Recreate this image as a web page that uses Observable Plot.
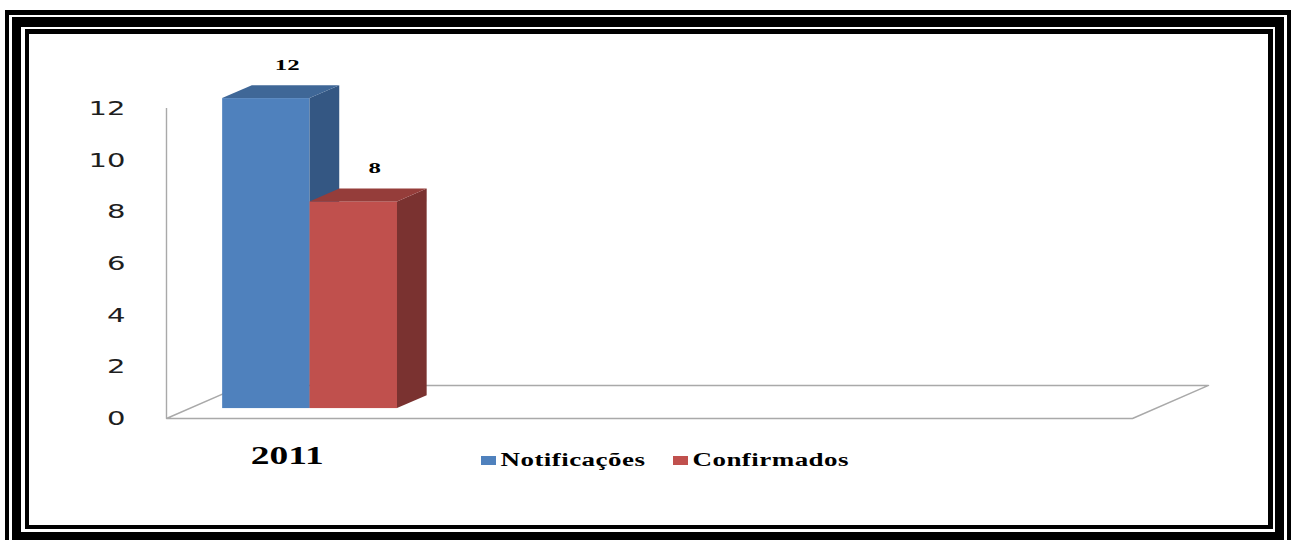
<!DOCTYPE html>
<html>
<head>
<meta charset="utf-8">
<script src="https://cdn.jsdelivr.net/npm/d3@7"></script>
<script src="https://cdn.jsdelivr.net/npm/@observablehq/plot@0.6"></script>
<style>
  html, body { margin: 0; padding: 0; background: #fff; }
  #page { position: relative; width: 1293px; height: 540px; overflow: hidden; background: #fff; }
  .frame { position: absolute; box-sizing: border-box; border-style: solid; border-color: #000; }
  #chart { position: absolute; left: 0; top: 0; }
  .leg { position: absolute; display: flex; align-items: center; transform-origin: 0 50%;
         font-family: "Liberation Serif", serif; font-weight: bold; font-size: 18px; color: #000; white-space: nowrap; letter-spacing: 0.3px; }
  .sw { display: inline-block; width: 10px; height: 9px; margin-right: 3px; }
</style>
</head>
<body>
<div id="page">
  <div class="frame" style="left:5px; top:10px; width:1286px; height:540px; border-width:5px 4px 4px 4px;"></div>
  <div class="frame" style="left:12px; top:17px; width:1272px; height:524px; border-width:10px 9px 9px 9px;"></div>
  <div class="frame" style="left:25px; top:29px; width:1248px; height:500px; border-width:5px 5px 4px 4px;"></div>
  <div id="chart"></div>
  <div id="legend"></div>
</div>
<script>
// ---- data ----
const categories = ["2011"];
const seriesNames = ["Notificações", "Confirmados"];
const notificacoes = [12];
const confirmados = [8];
const yTicks = [0, 2, 4, 6, 8, 10, 12];

// ---- styles ----
const frontColors = ["#4F81BD", "#C0504D"];
const sideColors = ["#345783", "#7A3230"];
const topColors = ["#3F6797", "#953D3A"];
const floorColor = "#a9a9a9";

// ---- 3D layout (data units) ----
const SLOTS = 4;          // category slots along the floor
const DEPTH_X = 0.315;    // floor depth, x units
const DEPTH_Y = 1.28;     // floor depth, y units
const Z0 = 0.30, Z1 = 0.69; // bar depth extent (0 = front, 1 = back)
const GAP = 0.138;
const BW = (1 - 2 * GAP) / seriesNames.length;

const seriesValues = [notificacoes, confirmados];
const bars = [];
seriesValues.forEach((vals, i) => {
  categories.forEach((c, j) => {
    const xl = j + GAP + i * BW;
    bars.push({series: i, name: seriesNames[i], category: c, value: vals[j], xl, xr: xl + BW});
  });
});

const floorPts = [
  {x: 0, y: 0}, {x: SLOTS, y: 0}, {x: SLOTS + DEPTH_X, y: DEPTH_Y},
  {x: DEPTH_X, y: DEPTH_Y}, {x: 0, y: 0}
];

const barMarks = bars.flatMap(b => {
  const v = b.value;
  return [
    Plot.rect([b], {
      x1: d => d.xl + Z0 * DEPTH_X, x2: d => d.xr + Z0 * DEPTH_X,
      y1: Z0 * DEPTH_Y, y2: d => d.value + Z0 * DEPTH_Y,
      fill: frontColors[b.series]
    }),
    Plot.areaY([
      {x: b.xr + Z0 * DEPTH_X, y1: Z0 * DEPTH_Y, y2: v + Z0 * DEPTH_Y},
      {x: b.xr + Z1 * DEPTH_X, y1: Z1 * DEPTH_Y, y2: v + Z1 * DEPTH_Y}
    ], {x: "x", y1: "y1", y2: "y2", fill: sideColors[b.series]}),
    Plot.areaX([
      {y: v + Z0 * DEPTH_Y, x1: b.xl + Z0 * DEPTH_X, x2: b.xr + Z0 * DEPTH_X},
      {y: v + Z1 * DEPTH_Y, x1: b.xl + Z1 * DEPTH_X, x2: b.xr + Z1 * DEPTH_X}
    ], {y: "y", x1: "x1", x2: "x2", fill: topColors[b.series]})
  ];
});

const ZM = (Z0 + Z1) / 2;

const plot = Plot.plot({
  width: 1293,
  height: 540,
  marginLeft: 166,
  marginRight: 161,
  marginTop: 108,
  marginBottom: 122,
  style: {background: "none", overflow: "visible"},
  x: {type: "linear", domain: [0, SLOTS]},
  y: {type: "linear", domain: [0, yTicks[yTicks.length - 1]]},
  marks: [
    Plot.line(floorPts, {x: "x", y: "y", stroke: floorColor, strokeWidth: 1.4}),
    Plot.ruleX([0], {y1: 0, y2: yTicks[yTicks.length - 1], stroke: floorColor, strokeWidth: 1.4}),
    ...barMarks,
    Plot.text(bars, {
      x: d => (d.xl + d.xr) / 2 + ZM * DEPTH_X,
      y: d => d.value + ZM * DEPTH_Y,
      text: d => String(d.value),
      dx: 6, dy: -27,
      fontSize: 15, fontWeight: "bold", fontFamily: "Liberation Serif, serif",
      fill: "#000"
    }),
    Plot.axisY(yTicks, {
      tickSize: 0, tickPadding: 41, fontSize: 20,
      fontFamily: "DejaVu Sans, sans-serif", color: "#1e1e1e", label: null
    }),
    Plot.axisX(categories.map((c, j) => j + 0.5), {
      tickSize: 0, tickPadding: 27, fontSize: 26, fontWeight: "bold",
      fontFamily: "Liberation Serif, serif", color: "#000", label: null,
      tickFormat: d => categories[Math.floor(d)]
    })
  ]
});

document.getElementById("chart").appendChild(plot);

function stretch(sel, k) {
  plot.querySelectorAll(sel).forEach(t => {
    const w = t.getComputedTextLength();
    t.setAttribute("textLength", (w * k).toFixed(1));
    t.setAttribute("lengthAdjust", "spacingAndGlyphs");
  });
}
stretch('g[aria-label="y-axis tick label"] text', 1.45);
stretch('g[aria-label="x-axis tick label"] text', 1.44);
stretch('g[aria-label="text"] text', 1.65);

// ---- legend ----
const legendLeft = [481, 673];
const legend = document.getElementById("legend");
seriesNames.forEach((name, i) => {
  const item = document.createElement("div");
  item.className = "leg";
  item.style.left = legendLeft[i] + "px";
  item.style.top = "450px";
  item.style.transform = "scaleX(1.5)";
  const sw = document.createElement("span");
  sw.className = "sw";
  sw.style.background = frontColors[i];
  item.appendChild(sw);
  const tx = document.createElement("span");
  tx.textContent = name;
  item.appendChild(tx);
  legend.appendChild(item);
});
</script>
</body>
</html>
